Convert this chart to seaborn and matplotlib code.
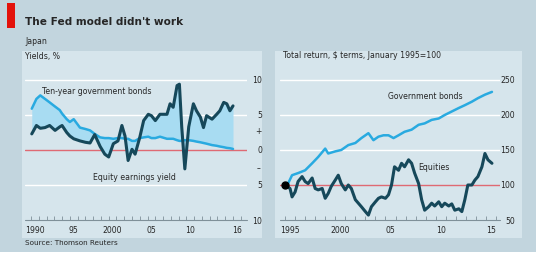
import matplotlib
matplotlib.use('Agg')
import matplotlib.pyplot as plt
import seaborn as sns
from matplotlib.patches import Rectangle

# Left panel: Japan yields, %
yield_years = [1990.1, 1990.7, 1991.2, 1991.8, 1992.4, 1993.1, 1993.7, 1994.0, 1994.6, 1995.0,
               1995.5, 1996.3, 1997.0, 1997.6, 1998.2, 1998.9, 1999.5, 2000.0, 2000.6, 2001.2,
               2001.7, 2002.1, 2002.5, 2003.0, 2003.4, 2004.0, 2004.5, 2005.1, 2005.5, 2006.0,
               2006.6, 2007.5, 2007.9, 2008.3, 2008.8, 2009.1, 2009.4, 2009.8, 2010.3, 2010.9,
               2011.3, 2011.8, 2012.2, 2012.6, 2013.3, 2013.9, 2014.3, 2014.8, 2015.2, 2015.6,
               2016.0]
equity_yield = [2.3, 3.5, 3.1, 3.2, 3.5, 2.8, 3.3, 3.5, 2.5, 2.0,
                1.6, 1.3, 1.1, 1.0, 2.2, 0.5, -0.6, -1.0, 0.9, 1.3,
                3.5, 2.0, -1.5, 0.1, -0.6, 1.8, 4.2, 5.1, 4.9, 4.2,
                5.1, 5.1, 6.6, 6.1, 9.2, 9.4, 3.3, -2.7, 3.3, 6.6,
                5.6, 4.7, 3.2, 4.9, 4.4, 5.1, 5.6, 6.8, 6.6, 5.6,
                6.3]
bond_yield = [5.9, 7.3, 7.8, 7.3, 6.8, 6.2, 5.7, 5.2, 4.4, 4.0,
              4.4, 3.2, 3.0, 2.8, 2.3, 1.8, 1.7, 1.7, 1.6, 1.7,
              1.7, 1.6, 1.6, 1.3, 1.3, 1.7, 1.8, 1.9, 1.7, 1.7,
              1.9, 1.6, 1.6, 1.6, 1.4, 1.3, 1.3, 1.4, 1.4, 1.3,
              1.2, 1.1, 1.0, 0.9, 0.7, 0.6, 0.5, 0.4, 0.3, 0.25,
              0.15]

# Right panel: total return, $ terms, January 1995=100
bond_ret_years = [1995.0, 1995.3, 1995.7, 1996.3, 1997.0, 1997.7, 1998.3, 1999.0, 1999.3, 2000.0,
                  2000.6, 2001.3, 2002.0, 2002.6, 2003.3, 2003.8, 2004.3, 2004.8, 2005.3, 2005.8,
                  2006.3, 2006.9, 2007.6, 2008.3, 2008.9, 2009.6, 2010.3, 2010.9, 2011.6, 2012.3,
                  2012.9, 2013.6, 2014.2, 2014.9, 2015.6]
bond_ret = [100, 102, 114, 117, 121, 131, 140, 152, 145, 148,
            150, 157, 160, 167, 174, 164, 169, 171, 171, 167,
            171, 176, 179, 186, 188, 193, 195, 200, 205, 210,
            214, 219, 224, 229, 233]
eq_ret_years = [1995.0, 1995.5, 1995.7, 1996.0, 1996.3, 1996.7, 1997.0, 1997.3, 1997.7, 1998.0,
                1998.3, 1998.7, 1999.0, 1999.3, 1999.6, 2000.0, 2000.3, 2000.6, 2001.0, 2001.3,
                2001.6, 2002.0, 2002.3, 2002.6, 2003.0, 2003.3, 2003.6, 2004.0, 2004.3, 2004.6,
                2005.0, 2005.3, 2005.6, 2005.9, 2006.3, 2006.6, 2006.9, 2007.3, 2007.6, 2007.9,
                2008.3, 2008.6, 2008.9, 2009.3, 2009.6, 2009.9, 2010.3, 2010.6, 2010.9, 2011.3,
                2011.6, 2011.9, 2012.3, 2012.6, 2012.9, 2013.2, 2013.6, 2013.9, 2014.2, 2014.6,
                2014.9, 2015.2, 2015.6]
eq_ret = [100, 95, 83, 90, 105, 112, 105, 102, 110, 95,
          93, 95, 81, 88, 98, 107, 114, 102, 93, 100,
          95, 79, 74, 69, 62, 57, 69, 76, 81, 83,
          81, 86, 100, 126, 121, 131, 126, 136, 131, 117,
          102, 79, 64, 69, 74, 70, 76, 69, 74, 70,
          73, 64, 66, 62, 79, 100, 100, 107, 112, 126,
          145, 136, 131]

W, H = 536, 259
OUTER = '#c2d5de'
PANEL = '#d6e5ec'
DARK = '#16485a'
LIGHT = '#29aae0'
FILL = '#a8dcf2'
RED = '#df6a73'
AXIS = '#7f9099'
TXT = '#262626'

sns.set_theme(style='white')
plt.rcParams['font.family'] = ['DejaVu Sans']

fig = plt.figure(figsize=(W / 100, H / 100), dpi=100)
fig.patch.set_facecolor('white')


def fx(x):
    return x / W


def fy(y):
    return 1 - y / H


def add_rect(x0, y0, x1, y1, color):
    fig.add_artist(Rectangle((fx(x0), fy(y1)), (x1 - x0) / W, (y1 - y0) / H,
                             transform=fig.transFigure, facecolor=color, lw=0, zorder=0))


# backgrounds
add_rect(0, 0, W, 252, OUTER)
add_rect(22, 51, 262, 238, PANEL)
add_rect(275, 51, 522, 238, PANEL)
add_rect(7, 3, 15, 28, '#e3120b')


def make_ax(x0, x1, y_top, y_bot):
    ax = fig.add_axes([fx(x0), fy(y_bot), (x1 - x0) / W, (y_bot - y_top) / H])
    ax.set_facecolor('none')
    for s in ax.spines.values():
        s.set_visible(False)
    return ax


def style_axis(ax, minor_years, label_pos, labels, yticks, ylabels, baseline):
    ax.set_xticks(label_pos, labels)
    ax.set_xticks(minor_years, minor=True)
    ax.tick_params(axis='x', which='major', length=0, pad=4, labelsize=5.6, colors=TXT)
    ax.tick_params(axis='x', which='minor', direction='in', length=3, width=0.6,
                   color=AXIS, bottom=True)
    ax.yaxis.tick_right()
    ax.set_yticks(yticks, ylabels)
    ax.tick_params(axis='y', length=0, pad=11, labelsize=5.6, colors=TXT)
    for lbl in ax.get_yticklabels():
        lbl.set_horizontalalignment('right')
    ax.axhline(baseline, color=AXIS, lw=0.8, zorder=1, clip_on=False)
    ax.set_xlabel('')
    ax.set_ylabel('')
    ax.grid(False)


# ---- left panel
ax1 = make_ax(25, 247, 65, 220)
ax1.set_xlim(1989.23, 2017.8)
ax1.set_ylim(-10, 12.14)
for v in [-5, 5, 10]:
    ax1.axhline(v, color='white', lw=1.0, zorder=1)
ax1.axhline(0, color=RED, lw=1.0, zorder=1.2)
ax1.fill_between(yield_years, equity_yield, bond_yield, color=FILL, lw=0, zorder=1.5)
sns.lineplot(x=yield_years, y=bond_yield, color=LIGHT, lw=1.8, ax=ax1, zorder=3)
sns.lineplot(x=yield_years, y=equity_yield, color=DARK, lw=2.2, ax=ax1, zorder=4)
style_axis(ax1, list(range(1990, 2018)),
           [1990.5, 1995.5, 2000.5, 2005.5, 2010.5, 2016.5],
           ['1990', '95', '2000', '05', '10', '16'],
           [-10, -5, 0, 5, 10], ['10', '5', '0', '5', '10'], -10)
ax1.annotate('+', xy=(1.05, 2.6), xycoords=('axes fraction', 'data'), fontsize=5.5,
             color=TXT, ha='center', va='center')
ax1.annotate('\u2013', xy=(1.05, -2.6), xycoords=('axes fraction', 'data'), fontsize=5.5,
             color=TXT, ha='center', va='center')

# ---- right panel
ax2 = make_ax(280, 500, 65, 220)
ax2.set_xlim(1994.5, 2016.4)
ax2.set_ylim(50, 271.4)
for v in [150, 200, 250]:
    ax2.axhline(v, color='white', lw=1.0, zorder=1)
ax2.axhline(100, color=RED, lw=1.0, zorder=1.2)
sns.lineplot(x=bond_ret_years, y=bond_ret, color=LIGHT, lw=1.8, ax=ax2, zorder=3)
sns.lineplot(x=eq_ret_years, y=eq_ret, color=DARK, lw=2.2, ax=ax2, zorder=4)
ax2.plot([eq_ret_years[0]], [eq_ret[0]], 'o', color='black', ms=5, zorder=5)
style_axis(ax2, list(range(1995, 2017)),
           [1995.5, 2000.5, 2005.5, 2010.5, 2015.5],
           ['1995', '2000', '05', '10', '15'],
           [50, 100, 150, 200, 250], ['50', '100', '150', '200', '250'], 50)

# ---- texts
fig.text(fx(25), fy(22), "The Fed model didn't work", fontsize=7.6, fontweight='bold',
         color=TXT, va='center', ha='left')
fig.text(fx(25), fy(41), 'Japan', fontsize=5.6, color=TXT, va='center')
fig.text(fx(25), fy(56), 'Yields, %', fontsize=5.6, color=TXT, va='center')
fig.text(fx(283), fy(56), 'Total return, $ terms, January 1995=100', fontsize=5.6,
         color=TXT, va='center')
fig.text(fx(42), fy(92), 'Ten-year government bonds', fontsize=5.6, color=TXT, va='center')
fig.text(fx(93), fy(177), 'Equity earnings yield', fontsize=5.6, color=TXT, va='center')
fig.text(fx(388), fy(97), 'Government bonds', fontsize=5.6, color=TXT, va='center')
fig.text(fx(418), fy(167), 'Equities', fontsize=5.6, color=TXT, va='center')
fig.text(fx(25), fy(243), 'Source: Thomson Reuters', fontsize=5.2, color=TXT, va='center')

fig.savefig('out.png', dpi=100, facecolor=fig.get_facecolor())
